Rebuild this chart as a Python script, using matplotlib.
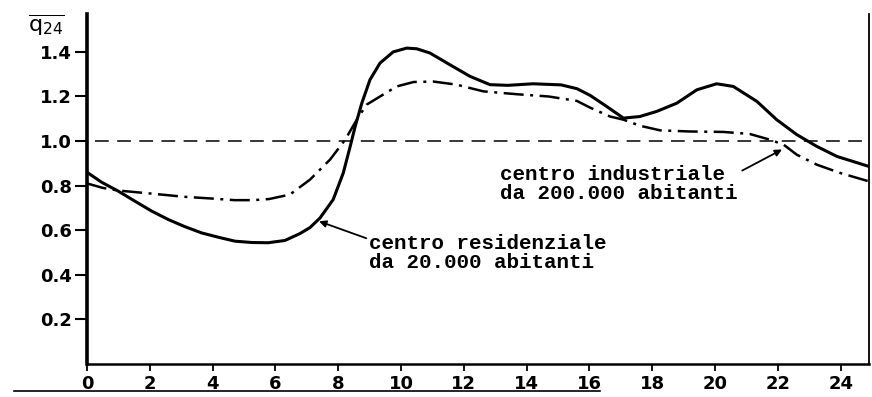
import numpy as np
import matplotlib
matplotlib.use('Agg')
from matplotlib import pyplot as plt
from matplotlib.lines import Line2D

# ore del giorno e portata relativa q/q24
hours_res = [0, 0.47, 1.0, 1.53, 2.07, 2.59, 3.1, 3.65, 4.2, 4.71, 5.25, 5.77, 6.3, 6.78,
             7.1, 7.42, 7.84, 8.16, 8.38, 8.54, 8.75, 9.01, 9.33, 9.75, 10.18, 10.5, 10.92,
             11.56, 12.2, 12.83, 13.4, 14.2, 15.1, 15.6, 16.02, 16.55, 17.08, 17.6,
             18.14, 18.78, 19.42, 20.05, 20.58, 21.33, 21.96, 22.6, 23.24, 23.88, 24.88]
q_res = [0.86, 0.815, 0.775, 0.73, 0.685, 0.648, 0.617, 0.588, 0.568, 0.551, 0.545,
         0.544, 0.554, 0.585, 0.612, 0.655, 0.738, 0.857, 0.976, 1.066, 1.17, 1.275,
         1.35, 1.40, 1.417, 1.414, 1.395, 1.342, 1.29, 1.253, 1.25, 1.257, 1.252, 1.235,
         1.205, 1.155, 1.103, 1.11, 1.133, 1.17, 1.23, 1.257, 1.245, 1.178, 1.096, 1.029,
         0.976, 0.931, 0.887]

hours_ind = [0, 0.5, 1.0, 2.0, 3.1, 4.0, 4.7, 5.3, 5.8, 6.46, 7.1, 7.74, 8.22, 8.59, 8.9,
             9.33, 9.86, 10.4, 11.03, 11.77, 12.62, 13.7, 14.7, 15.6, 16.02, 16.66,
             17.08, 17.6, 18.25, 19.2, 20.26, 21.1, 21.75, 22.18, 22.6, 23.24, 23.98,
             24.88]
q_ind = [0.81, 0.79, 0.778, 0.765, 0.75, 0.742, 0.735, 0.735, 0.74, 0.76, 0.827, 0.917,
         1.006, 1.096, 1.163, 1.2, 1.245, 1.265, 1.267, 1.253, 1.223, 1.21, 1.20, 1.18,
         1.15, 1.11, 1.096, 1.069, 1.048, 1.043, 1.041, 1.032, 1.006, 0.984, 0.939,
         0.894, 0.857, 0.82]

xticks = list(range(0, 25, 2))
yticks = [0.2, 0.4, 0.6, 0.8, 1.0, 1.2, 1.4]
label_res = 'centro residenziale\nda 20.000 abitanti'
label_ind = 'centro industriale\nda 200.000 abitanti'

fig = plt.figure(figsize=(8.72, 3.97), dpi=100)
ax = fig.add_axes([87 / 872, 33 / 397, 782 / 872, 350 / 397])

ax.plot(hours_res, q_res, color='black', lw=2.2, solid_joinstyle='round')
ax.plot(hours_ind, q_ind, color='black', lw=1.8, dashes=[8, 2.6, 1.2, 2.6])
ax.axhline(1.0, xmin=0.01, color='black', lw=1.1, dashes=[9, 5.5])

ax.set_xlim(0, 24.9)
ax.set_ylim(0, 1.57)
ax.set_xticks(xticks)
ax.set_xticklabels([str(t) for t in xticks])
ax.set_yticks(yticks)
ax.set_yticklabels([f'{t:.1f}' for t in yticks])
for lab in ax.get_xticklabels() + ax.get_yticklabels():
    lab.set_fontfamily('DejaVu Sans')
    lab.set_fontweight('bold')
    lab.set_fontsize(13)
ax.tick_params(axis='y', direction='out', length=9, width=1.5, pad=2)
ax.tick_params(axis='x', direction='out', length=5, width=1.3, pad=3)

ax.spines['top'].set_visible(False)
ax.spines['left'].set_linewidth(2.6)
ax.spines['bottom'].set_linewidth(1.8)
ax.spines['right'].set_linewidth(1.3)

mono = dict(family='Liberation Mono', fontsize=15, fontweight='bold', linespacing=1.0)
ax.annotate(label_res, xy=(7.39, 0.64), xytext=(8.98, 0.50), va='center', ha='left',
            arrowprops=dict(arrowstyle='-|>', color='black', lw=1.3, mutation_scale=10,
                            shrinkA=0, shrinkB=0, relpos=(0, 0.85)),
            **mono)
ax.annotate(label_ind, xy=(22.13, 0.962), xytext=(13.15, 0.808), va='center', ha='left',
            arrowprops=dict(arrowstyle='-|>', color='black', lw=1.3, mutation_scale=10,
                            shrinkA=0, shrinkB=0, relpos=(1.02, 0.85)),
            **mono)

fig.text(28 / 872, 1 - 25 / 397, r'$\overline{\mathrm{q}_{24}}$', fontsize=16,
         ha='left', va='center')

# riga sotto le etichette dell'asse x
fig.add_artist(Line2D([14 / 872, 600 / 872], [1 - 391 / 397, 1 - 391 / 397],
                      color='black', lw=1.2))

fig.savefig('out.png', dpi=100)
